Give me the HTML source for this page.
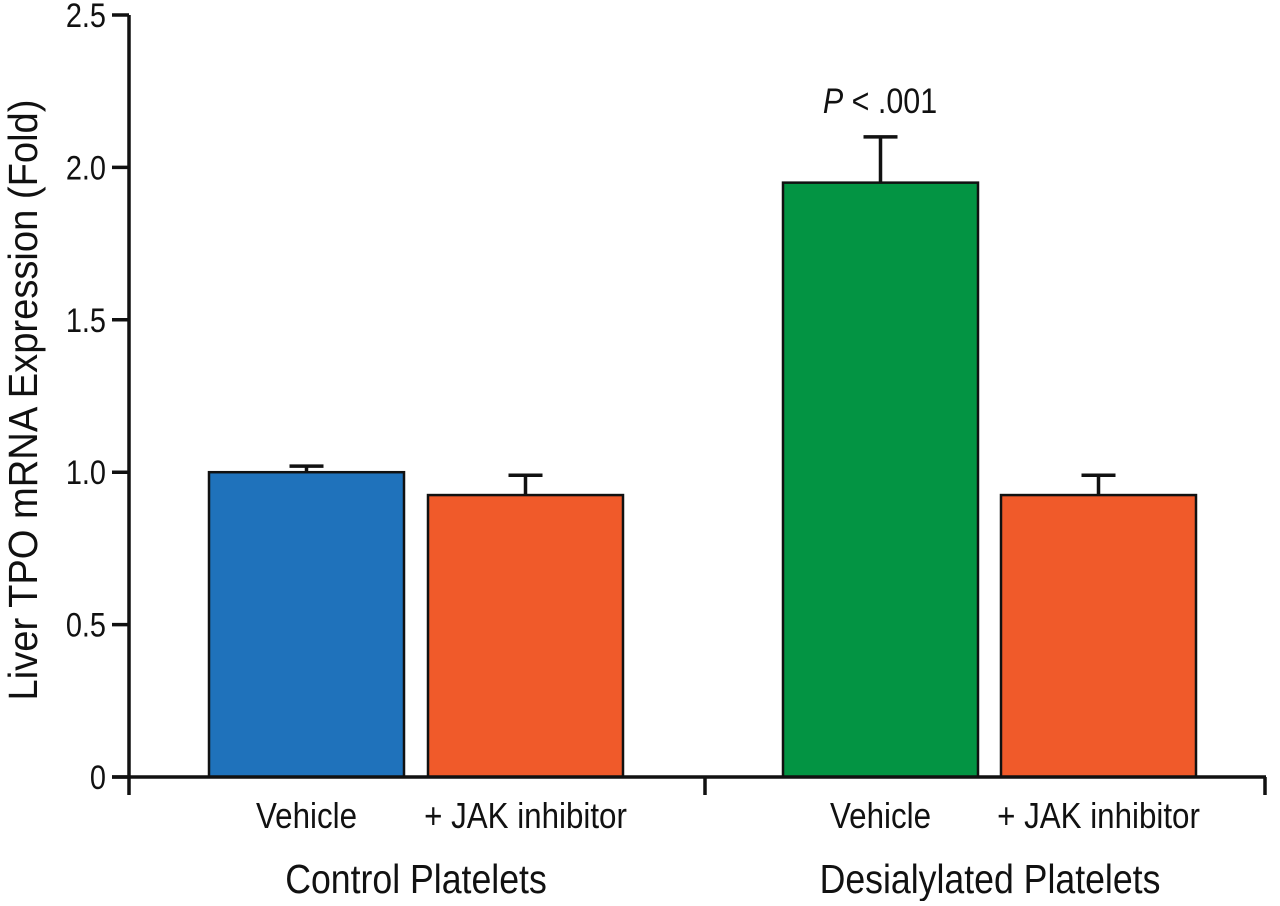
<!DOCTYPE html>
<html><head><meta charset="utf-8"><style>
body{margin:0;background:#fff}
svg text{font-family:"Liberation Sans",sans-serif;fill:#111}
</style></head><body>
<svg id="chart" width="1280" height="901" xmlns="http://www.w3.org/2000/svg">
<g id="g"></g>
</svg>
<script>
const categories=["Vehicle","+ JAK inhibitor","Vehicle","+ JAK inhibitor"];
const groups=["Control Platelets","Desialylated Platelets"];
const values=[1.0,0.925,1.95,0.925];
const errors=[0.02,0.065,0.15,0.065];
const colors=["#1f72bb","#f05a2a","#039443","#f05a2a"];
const yTicks=[0,0.5,1.0,1.5,2.0,2.5];
const yTickLabels=["0","0.5","1.0","1.5","2.0","2.5"];
const barLeft=[209,428,783,1001];
const NS="http://www.w3.org/2000/svg";
const g=document.getElementById('g');
const y=v=>777-v*304.8;
function mk(t,a,txt){const e=document.createElementNS(NS,t);for(const k in a)e.setAttribute(k,a[k]);if(txt!==undefined)e.textContent=txt;g.appendChild(e);return e;}
values.forEach((v,i)=>{
 const x=barLeft[i],w=195;
 const eb=mk('path',{d:`M${x+w/2},${y(v)} V${y(v+errors[i])} M${x+w/2-17},${y(v+errors[i])} H${x+w/2+17}`,stroke:'#111','stroke-width':3.5,fill:'none'});
 
 
 const r=mk('rect',{x:x,y:y(v),width:w,height:777-y(v),fill:colors[i],stroke:'#111','stroke-width':2.5});
 
 
 const cx=x+w/2;
 const t=mk('text',{x:cx/0.87,y:828,'font-size':36,'text-anchor':'middle',transform:'scale(0.87,1)'},categories[i]);
 
 
});
const ya=mk('path',{d:'M129,15 V795',stroke:'#111','stroke-width':3.5,fill:'none'});


const xa=mk('path',{d:'M112,777 H1266 M705,777 V795 M1265,777 V795',stroke:'#111','stroke-width':3.5,fill:'none'});


yTicks.forEach((v,i)=>{
 const tk=mk('path',{d:`M112,${y(v)} H129`,stroke:'#111','stroke-width':3.5});
 
 
 const tl=mk('text',{x:106/0.85,y:y(v)+12,'font-size':34,'text-anchor':'end',transform:'scale(0.85,1)'},yTickLabels[i]);
 
 
});
const gx=[416,990];
groups.forEach((s,i)=>{
 const t=mk('text',{x:gx[i]/0.87,y:893,'font-size':41,'text-anchor':'middle',transform:'scale(0.87,1)'},s);
 
 
});
const yt=mk('text',{x:0,y:0,'font-size':41,'text-anchor':'middle',transform:'translate(37,400) rotate(-90) scale(0.93,1)'},'Liver TPO mRNA Expression (Fold)');


const p=mk('text',{x:880/0.87,y:113,'font-size':35,'text-anchor':'middle',transform:'scale(0.87,1)'});
p.innerHTML='<tspan font-style="italic">P</tspan> &lt; .001';


</script>
</body></html>
